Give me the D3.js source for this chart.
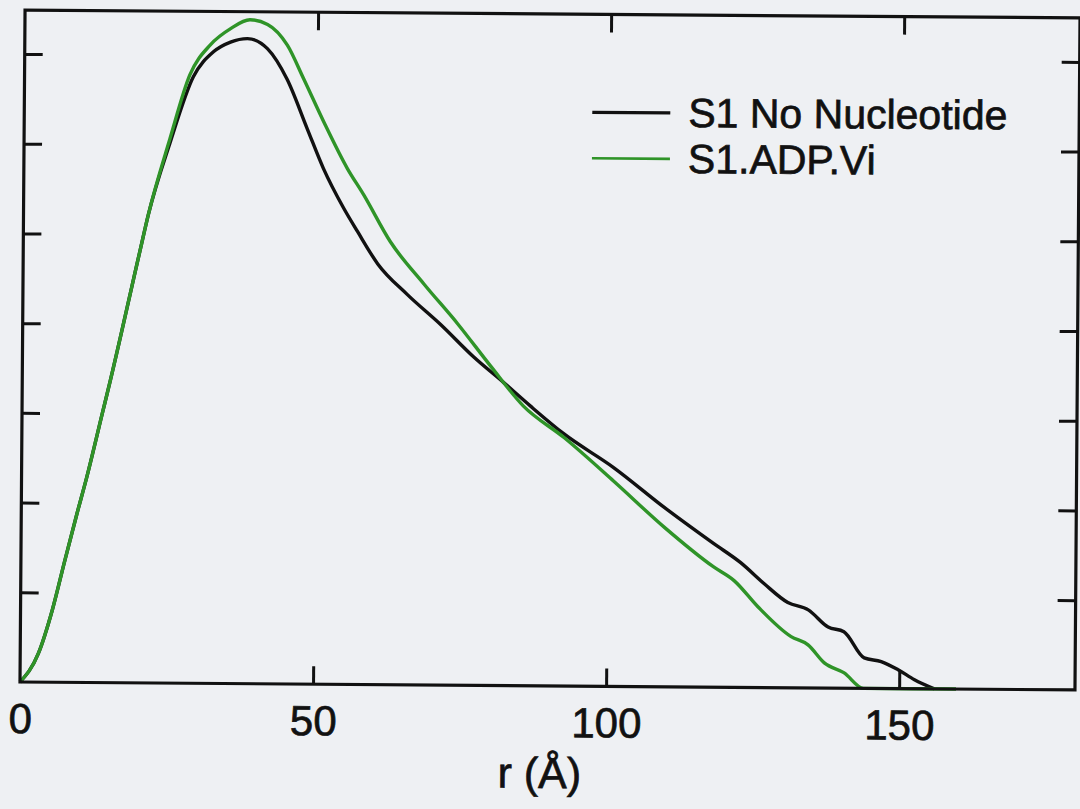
<!DOCTYPE html>
<html>
<head>
<meta charset="utf-8">
<script src="https://cdn.jsdelivr.net/npm/d3@7"></script>
<style>
  html, body { margin: 0; padding: 0; background: #eef0f3; }
  svg { display: block; }
  text { font-family: "Liberation Sans", Arial, sans-serif; fill: #111; stroke: #111; stroke-width: 0.7px; }
</style>
</head>
<body>
<svg id="chart" width="1080" height="809"></svg>
<script>
// ---- data ----
const xTicks = [0, 50, 100, 150];
const yTicks = [1, 2, 3, 4, 5, 6, 7];
const seriesNames = ["S1 No Nucleotide", "S1.ADP.Vi"];
const seriesColors = ["#111111", "#2f9428"];

const noNucR = [0, 3.1, 5.4, 7.5, 9.5, 11.1, 13.7, 15.0, 19.9, 21.3, 24.9, 28.8, 32.2, 35.1, 38.0, 41.4, 44.8, 48.3, 51.1, 54.6, 57.0, 60.5, 65.6, 71.3, 77.0, 82.1, 86.7, 92.5, 101.0, 109.7, 118.2, 122.8, 126.8, 130.9, 134.4, 137.8, 140.5, 144.0, 146.9, 149.8, 152.6, 156.0];
const noNucP = [0, 0.32, 0.80, 1.36, 1.88, 2.28, 3.00, 3.36, 4.81, 5.22, 6.02, 6.76, 7.04, 7.15, 7.19, 7.08, 6.74, 6.19, 5.75, 5.31, 5.05, 4.69, 4.35, 4.02, 3.66, 3.38, 3.12, 2.81, 2.44, 2.00, 1.60, 1.39, 1.16, 0.95, 0.87, 0.68, 0.63, 0.34, 0.30, 0.21, 0.10, 0];

const adpViR = [0, 3.1, 5.4, 7.5, 9.5, 11.1, 13.7, 15.0, 19.9, 21.3, 24.9, 28.2, 31.7, 35.1, 38.4, 41.4, 44.8, 47.6, 51.1, 55.2, 58.0, 62.6, 68.4, 74.2, 79.9, 85.5, 92.5, 101.0, 109.7, 118.2, 121.7, 125.8, 131.5, 134.4, 137.2, 140.6, 143.9, 159.7];
const adpViP = [0, 0.32, 0.80, 1.36, 1.88, 2.28, 3.00, 3.36, 4.81, 5.22, 6.07, 6.78, 7.12, 7.30, 7.40, 7.35, 7.12, 6.75, 6.27, 5.75, 5.46, 4.94, 4.47, 4.03, 3.56, 3.12, 2.77, 2.29, 1.78, 1.34, 1.19, 0.90, 0.57, 0.48, 0.28, 0.17, 0, 0];

const xLabel = "r (Å)";

// ---- layout ----
const L = 20, R = 1075, T = 10, B = 682;
const x = d3.scaleLinear().domain([0, 180]).range([L, R]);
const y = d3.scaleLinear().domain([0, 7.49]).range([B, T]);

const svg = d3.select("#chart");
svg.append("rect").attr("width", 1080).attr("height", 809).attr("fill", "#eef0f3");

// the scanned figure is slightly tilted
const g = svg.append("g").attr("transform", `rotate(0.43, ${L}, ${B})`);

const series = [
  d3.zip(noNucR, noNucP),
  d3.zip(adpViR, adpViP)
];

const line = d3.line()
  .x(d => x(d[0]))
  .y(d => y(d[1]))
  .curve(d3.curveMonotoneX);

[0, 1].forEach(i => {
  g.append("path")
    .datum(series[i])
    .attr("d", line)
    .attr("fill", "none")
    .attr("stroke", seriesColors[i])
    .attr("stroke-width", 3.4)
    .attr("stroke-linejoin", "round");
});

// axes with inward ticks
const tickLen = 18;
const axStyle = sel => {
  sel.select(".domain").remove();
  sel.selectAll(".tick line").attr("stroke", "#111").attr("stroke-width", 3);
};

const axBottom = g.append("g").attr("transform", `translate(0,${B})`)
  .call(d3.axisBottom(x).tickValues(xTicks).tickSize(-tickLen).tickPadding(0).tickFormat(d3.format("d")));
axStyle(axBottom);
axBottom.selectAll(".tick text")
  .attr("y", 51).attr("dy", 0)
  .style("font-size", "42px")
  .style("font-family", '"Liberation Sans", Arial, sans-serif')
  .attr("fill", "#111");
axBottom.selectAll(".tick").filter(d => d === 0).select("line").remove();

const axTop = g.append("g").attr("transform", `translate(0,${T})`)
  .call(d3.axisTop(x).tickValues(xTicks.filter(d => d > 0)).tickSize(-tickLen).tickFormat(""));
axStyle(axTop);

const axLeft = g.append("g").attr("transform", `translate(${L},0)`)
  .call(d3.axisLeft(y).tickValues(yTicks).tickSize(-tickLen).tickFormat(""));
axStyle(axLeft);

const axRight = g.append("g").attr("transform", `translate(${R},0)`)
  .call(d3.axisRight(y).tickValues(yTicks).tickSize(-tickLen).tickFormat(""));
axStyle(axRight);

// frame
g.append("rect")
  .attr("x", L).attr("y", T)
  .attr("width", R - L).attr("height", B - T)
  .attr("fill", "none").attr("stroke", "#111").attr("stroke-width", 3.2);

// x-axis title
g.append("text")
  .attr("x", 540).attr("y", 784)
  .attr("text-anchor", "middle")
  .style("font-size", "43px")
  .text(xLabel);

// legend
const legend = g.append("g");
seriesNames.forEach((name, i) => {
  const ly = 108 + i * 46;
  legend.append("line")
    .attr("x1", 588).attr("x2", 666)
    .attr("y1", ly).attr("y2", ly)
    .attr("stroke", seriesColors[i])
    .attr("stroke-width", i === 0 ? 3.2 : 2.6);
  legend.append("text")
    .attr("x", 684).attr("y", ly + 14)
    .style("font-size", "41px")
    .text(name);
});
</script>
</body>
</html>
